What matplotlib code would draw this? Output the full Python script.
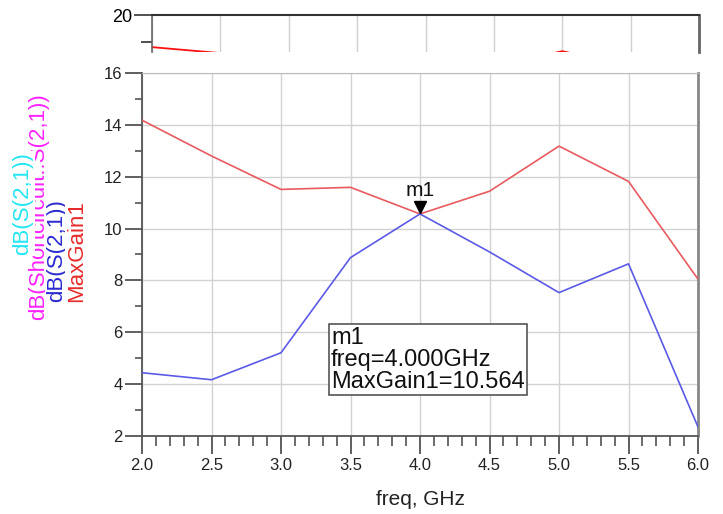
import numpy as np
import matplotlib
matplotlib.use("Agg")
import matplotlib.pyplot as plt
import matplotlib.ticker as mticker
import matplotlib.transforms as mtransforms

plt.rcParams["font.family"] = ["Liberation Sans", "DejaVu Sans"]

# ---- data -------------------------------------------------------------
freq_ghz = [2.0, 2.5, 3.0, 3.5, 4.0, 4.5, 5.0, 5.5, 6.0]
max_gain = [14.18, 12.80, 11.51, 11.59, 10.564, 11.44, 13.18, 11.82, 8.05]
db_s21 = [4.44, 4.17, 5.21, 8.88, 10.564, 9.10, 7.53, 8.64, 2.35]

# upper plot (only its top strip is shown)
top_gain = [18.81, 18.59, 17.60, 17.40, 17.60, 18.10, 18.66, 18.10, 17.40]

marker_freq = 4.0
marker_val = 10.564

W, H = 723, 514
fig = plt.figure(figsize=(W / 100, H / 100), dpi=100)


def px_axes(l, t, r, b):
    return fig.add_axes([l / W, 1 - b / H, (r - l) / W, (b - t) / H])


# ---- upper strip ------------------------------------------------------
axt = px_axes(152, 15, 699, 52)
axt.plot(freq_ghz, top_gain, color="#ff1010", lw=1.3)
axt.set_xlim(2.0, 6.0)
axt.set_ylim(18.63, 20.0)
axt.set_xticks(np.arange(2.0, 6.01, 0.5))
axt.tick_params(axis="x", length=0, labelbottom=False)
axt.grid(axis="x", color="#cfcfcf", lw=1)
axt.set_yticks([20])
axt.set_yticklabels(["20"])
axt.yaxis.set_minor_locator(mticker.FixedLocator([19]))
axt.tick_params(axis="y", which="major", length=13, width=1.2, color="#333333",
                labelsize=13, pad=1)
axt.tick_params(axis="y", which="minor", length=8, width=1.2, color="#333333")
axt.spines["bottom"].set_visible(False)
axt.spines["top"].set_color("#333333")
axt.spines["top"].set_linewidth(1.5)
axt.spines["left"].set_color("#666666")
axt.spines["left"].set_linewidth(1.2)
axt.spines["right"].set_color("#666666")
axt.spines["right"].set_linewidth(2)

# ---- main plot ----------------------------------------------------------
ax = px_axes(142, 73, 698, 436)
ax.plot(freq_ghz, max_gain, color="#e85a5e", lw=1.2, zorder=3)
ax.plot(freq_ghz, db_s21, color="#5a5ae6", lw=1.2, zorder=3)
ax.set_xlim(2.0, 6.0)
ax.set_ylim(2, 16)

ax.set_xticks(np.arange(2.0, 6.01, 0.5))
ax.xaxis.set_minor_locator(mticker.MultipleLocator(0.1))
ax.xaxis.set_major_formatter(mticker.FormatStrFormatter("%.1f"))
ax.set_yticks(np.arange(2, 16.1, 2))
ax.yaxis.set_minor_locator(mticker.MultipleLocator(1))
ax.grid(which="major", color="#d2d2d2", lw=1)
ax.tick_params(axis="x", which="major", length=13, width=1.2, color="#444444",
               labelsize=12, pad=3, labelcolor="#222222")
ax.tick_params(axis="x", which="minor", length=7, width=1.1, color="#444444")
ax.tick_params(axis="y", which="major", length=12, width=1.2, color="#444444",
               labelsize=12, pad=2, labelcolor="#222222")
ax.tick_params(axis="y", which="minor", length=5, width=1.1, color="#444444")
for side in ("left", "bottom"):
    ax.spines[side].set_color("#555555")
    ax.spines[side].set_linewidth(1.3)
ax.spines["top"].set_color("#bbbbbb")
ax.spines["right"].set_color("#888888")
ax.spines["right"].set_linewidth(2)
ax.set_xlabel("freq, GHz", fontsize=15, labelpad=12, color="#222222")

# marker m1
tri = mtransforms.offset_copy(ax.transData, fig=fig, x=0, y=5, units="points")
ax.plot(marker_freq, marker_val, marker="v", color="black", markersize=8,
        transform=tri, zorder=5, clip_on=False)
ax.annotate("m1", xy=(marker_freq, marker_val), xytext=(0, 10),
            textcoords="offset points", ha="center", va="bottom",
            fontsize=15, color="#111111")

# marker readout box
ax.text(3.36, 6.22,
        f"m1\nfreq={marker_freq:.3f}GHz\nMaxGain1={marker_val:.3f}",
        fontsize=17, linespacing=1.0, ha="left", va="top", color="#111111",
        bbox=dict(boxstyle="square,pad=0.1", fc="white", ec="#555555", lw=1.2),
        zorder=6)

# stacked trace labels on the left
labels = [
    ("dB(Shortcircuit..S(2,1))", "#ff22ff", 39, 320, False),
    ("dB(S(2,1))", "#22e6f2", 23, 255, True),
    ("dB(S(2,1))", "#2a2ad0", 57, 302, True),
    ("MaxGain1", "#e82a2a", 77, 302, True),
]
for txt, col, x, y, boxed in labels:
    kw = dict(rotation=90, rotation_mode="anchor", ha="left", va="center",
              fontsize=16, color=col)
    if boxed:
        kw["bbox"] = dict(boxstyle="square,pad=0.05", fc="white", ec="none")
    fig.text(x / W, 1 - y / H, txt, **kw)

fig.savefig("out.png", dpi=100)
